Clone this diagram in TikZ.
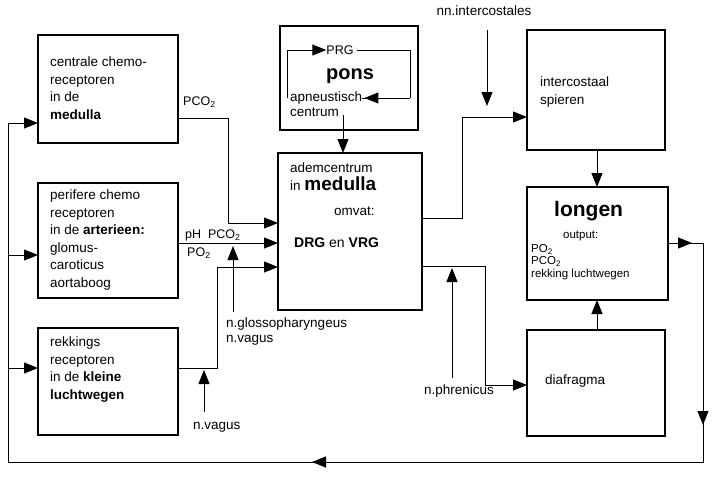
\documentclass[tikz,border=0pt]{standalone}
\usepackage{fontspec}
\setmainfont{Liberation Sans}
\usetikzlibrary{arrows.meta}
\begin{document}
\begin{tikzpicture}[x=1pt,y=-1pt,
  box/.style={draw,line width=2pt},
  ln/.style={line width=1pt},
  arr/.style={ln,-{Triangle[length=14pt,width=11pt]}},
  t/.style={font=\fontsize{13.5}{17.5}\selectfont,align=left,anchor=north west,inner sep=0pt},
  s/.style={font=\fontsize{12.5}{14}\selectfont,align=left,inner sep=0pt}]
\useasboundingbox (0,0) rectangle (720,485);
\draw[box] (38,35) rectangle (178,143);
\draw[box] (38,183) rectangle (178,298);
\draw[box] (38,328) rectangle (178,435);
\draw[box] (280,26) rectangle (418,130);
\draw[box] (278,153) rectangle (422,310);
\draw[box] (527,30) rectangle (665,150);
\draw[box] (527,187) rectangle (668,300);
\draw[box] (527,330) rectangle (665,436);

\node[t] (c1) at (50,57) {centrale chemo-\\receptoren\\in de\\\textbf{medulla}};
\node[t] (c2) at (50,190) {perifere chemo\\receptoren\\in de \textbf{arterieen:}\\glomus-\\caroticus\\aortaboog};
\node[t] (c3) at (50,337) {rekkings\\receptoren\\in de \textbf{kleine}\\\textbf{luchtwegen}};
\node[s] (prg) at (340,50) {PRG};
\node[font=\fontsize{20}{22}\selectfont\bfseries,inner sep=0pt] (pons) at (350,76) {pons};
\node[s,anchor=north west,font=\fontsize{13.5}{15}\selectfont] (apn) at (290,92) {apneustisch\\centrum};
\node[t] (ad) at (290,163) {ademcentrum\\in {\fontsize{19}{20}\selectfont\bfseries medulla}};
\node[t] (om) at (334,207) {omvat:};
\node[t,font=\fontsize{14}{15}\selectfont] (dv) at (294,238) {\textbf{DRG} en \textbf{VRG}};
\node[t] (ic) at (540,77) {intercostaal\\spieren};
\node[font=\fontsize{21}{22}\selectfont\bfseries,inner sep=0pt,anchor=west] (lo) at (554,211) {longen};
\node[s,anchor=west,font=\fontsize{11.5}{13}\selectfont] (out) at (563,236) {output:};
\node[s,anchor=north west,font=\fontsize{11.5}{12.5}\selectfont] (lv) at (531,244) {PO\textsubscript{2}\\PCO\textsubscript{2}\\rekking luchtwegen};
\node[s,anchor=west,font=\fontsize{13.5}{15}\selectfont] (di) at (545,381) {diafragma};

% pons loop
\draw[ln] (prg.east) ++(3,0) -| (410,98);
\draw[arr] (410,98) -- (apn.north east|-410,98) ++(12,0) -- ++(-10,0);
\draw[arr] (287,98) -- (287,50) -- (prg.west);
\draw[arr] (343,115) -- (343,153);

% inputs to ademcentrum
\node[s,anchor=south west] (pco) at (183,108) {PCO\textsubscript{2}};
\draw[arr] (178,118) -| (228,223) -- (278,223);
\draw[arr] (178,243) -- (278,243);
\node[s,anchor=south west] (ph) at (185,241) {pH\ \ PCO\textsubscript{2}};
\node[s,anchor=north west] (po) at (187,248) {PO\textsubscript{2}};
\draw[arr] (178,368) -| (217,267) -- (278,267);
\coordinate (g0) at (233,312);
\draw[arr] (g0) -- (233,246);
\node[s,anchor=north west,font=\fontsize{13.5}{15}\selectfont] (gl) at (226,318) {n.glossopharyngeus\\n.vagus};
\coordinate (v0) at (204,412);
\draw[arr] (v0) -- (204,370);
\node[s,anchor=north west,font=\fontsize{13.5}{15}\selectfont] (vg) at (193,422) {n.vagus};

% outputs
\draw[arr] (422,218) -| (462,117) -- (527,117);
\node[s,anchor=north,font=\fontsize{13.5}{15}\selectfont] (nn) at (484,6) {nn.intercostales};
\draw[arr] (487,30) -- (487,106);
\draw[arr] (422,266) -| (485,385) -- (527,385);
\draw[arr] (452,378) -- (452,268);
\node[s,anchor=north west,font=\fontsize{13.5}{15}\selectfont] (np) at (424,385) {n.phrenicus};
\draw[arr] (597,150) -- (597,187);
\draw[arr] (597,330) -- (597,300);

% feedback loop
\draw[arr] (668,243) -- (692,243);
\draw[ln] (690,243) -- (703,243) -- (703,462) -- (8,462) -- (8,123);
\draw[arr] (703,243) -- (703,425);
\draw[arr] (703,462) -- (312,462);
\draw[arr] (8,123) -- (38,123);
\draw[arr] (8,255) -- (38,255);
\draw[arr] (8,368) -- (38,368);
\end{tikzpicture}
\end{document}
